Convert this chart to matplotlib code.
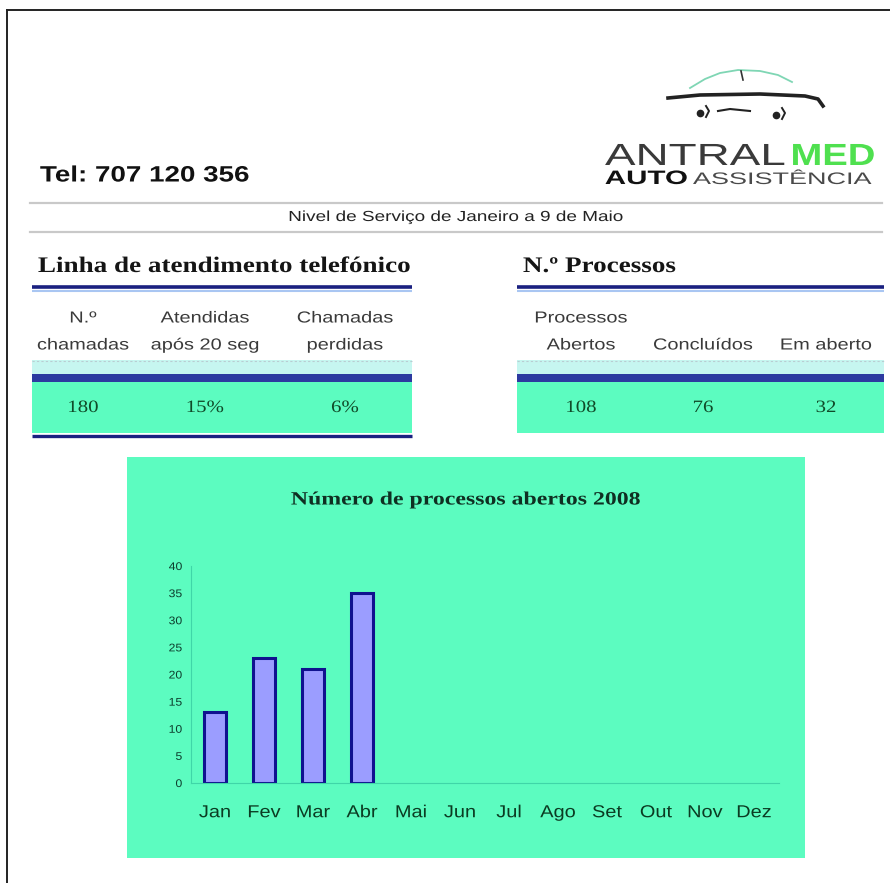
import matplotlib
matplotlib.use("Agg")
import matplotlib.pyplot as plt
from matplotlib.patches import Rectangle
from matplotlib.patheffects import AbstractPathEffect
from matplotlib.transforms import Affine2D

# data
months = ["Jan", "Fev", "Mar", "Abr", "Mai", "Jun", "Jul", "Ago", "Set", "Out", "Nov", "Dez"]
opened = [13, 23, 21, 35]  # Jan..Abr, remaining months still empty
y_ticks = [0, 5, 10, 15, 20, 25, 30, 35, 40]

phone_headers = ["N.º\nchamadas", "Atendidas\napós 20 seg", "Chamadas\nperdidas"]
phone_values = ["180", "15%", "6%"]
proc_headers = ["Processos\nAbertos", "Concluídos", "Em aberto"]
proc_values = ["108", "76", "32"]

phone_tel = "Tel: 707 120 356"
subtitle = "Nivel de Serviço de Janeiro a 9 de Maio"
chart_title = "Número de processos abertos 2008"

AQUA = "#5cfcc0"
NAVY = "#1a2080"
SANS = "Liberation Sans"
SERIF = "Liberation Serif"


class Stretch(AbstractPathEffect):
    """Widen glyphs horizontally (the source scan is stretched sideways)."""

    def __init__(self, sx, about="center"):
        super().__init__()
        self.sx = sx
        self.about = about

    def draw_path(self, renderer, gc, tpath, affine, rgbFace=None):
        ext = tpath.get_extents()
        if self.about == "left":
            cx = ext.x0
        elif self.about == "right":
            cx = ext.x1
        else:
            cx = (ext.x0 + ext.x1) / 2
        t = Affine2D().translate(-cx, 0).scale(self.sx, 1).translate(cx, 0) + affine
        renderer.draw_path(gc, tpath, t, rgbFace)


fig = plt.figure(figsize=(8.9, 8.83), dpi=100)

# overlay axes in pixel coordinates for the page layout
page = fig.add_axes([0, 0, 1, 1])
page.set_xlim(0, 890)
page.set_ylim(883, 0)
page.axis("off")


def stext(x, y, s, sx, ha="center", **kw):
    about = {"left": "left", "right": "right"}.get(ha, "center")
    return page.text(x, y, s, ha=ha, path_effects=[Stretch(sx, about)], **kw)


# frame
page.plot([7, 7], [883, 10], color="#222222", lw=1.4)
page.plot([7, 890], [10, 10], color="#222222", lw=1.4)

# logo: car sketch + wordmark
page.plot([690, 705, 720, 738, 760, 778, 792], [88, 79, 73, 70, 71, 75, 82], color="#7fd6b4", lw=1.3)
page.plot([741, 743], [71, 80], color="#333333", lw=1.2)
page.plot([668, 700, 760, 805, 818, 823], [98, 95, 94, 96, 99, 106], color="#222222", lw=2.6)
page.plot([700], [113], "o", color="#222222", ms=4.5)
page.plot([776], [115], "o", color="#222222", ms=4.5)
page.plot([706, 709, 706], [106, 111, 117], color="#222222", lw=1.4)
page.plot([782, 785, 782], [108, 113, 119], color="#222222", lw=1.4)
page.plot([718, 730, 750], [111, 109, 111], color="#222222", lw=1.5)
stext(605, 165, "ANTRAL", 1.5, ha="left", va="baseline", family=SANS, fontsize=22, color="#3a3a3a")
stext(791, 165, "MED", 1.25, ha="left", va="baseline", family=SANS, weight="bold",
      fontsize=22, color="#4fe04f")
stext(605, 184, "AUTO", 1.52, ha="left", va="baseline", family=SANS, weight="bold",
      fontsize=14, color="#111111")
stext(693, 184, "ASSISTÊNCIA", 1.62, ha="left", va="baseline", family=SANS,
      fontsize=12, color="#4a4a4a")

stext(40, 176, phone_tel, 1.25, ha="left", va="center", family=SANS, weight="bold",
      fontsize=16, color="#111111")

# subtitle band
for yy in (203, 232):
    page.plot([30, 882], [yy, yy], color="#c9c9c9", lw=1.6)
stext(457, 217, subtitle, 1.3, va="center", family=SANS, fontsize=10.5, color="#222222")

# tables
panels = [
    (32, 412, "Linha de atendimento telefónico", phone_headers, phone_values,
     [83, 205, 345], True),
    (517, 884, "N.º Processos", proc_headers, proc_values, [581, 703, 826], False),
]
for x0, x1, head, headers, values, cols, bottom_line in panels:
    stext(x0 + 6, 267, head, 1.22, ha="left", va="center", family=SERIF, weight="bold",
          fontsize=16, color="#151515")
    page.plot([x0, x1], [287, 287], color=NAVY, lw=2.6, solid_capstyle="butt")
    page.plot([x0, x1], [291, 291], color="#a9c6f2", lw=1.5, solid_capstyle="butt")
    page.add_patch(Rectangle((x0, 360), x1 - x0, 14, color="#c6f6f0", lw=0))
    page.plot([x0, x1], [361, 361], color="#b9cdd2", lw=0.8, ls=(0, (2, 2)))
    page.add_patch(Rectangle((x0, 374), x1 - x0, 8, color="#2c3aa0", lw=0))
    page.add_patch(Rectangle((x0, 382), x1 - x0, 51, color=AQUA, lw=0))
    if bottom_line:
        page.plot([x0, x1], [436, 436], color=NAVY, lw=2.4, solid_capstyle="butt")
    for cx, hd, val in zip(cols, headers, values):
        lines = hd.split("\n")
        rows = [318, 345][-len(lines):]
        for ln, ry in zip(lines, rows):
            stext(cx, ry, ln, 1.25, va="center", family=SANS, fontsize=11.5, color="#3a3a3a")
        stext(cx, 408, val, 1.2, va="center", family=SERIF, fontsize=12.5, color="#104a28")

# chart panel
page.add_patch(Rectangle((127, 457), 678, 401, color=AQUA, lw=0))
stext(466, 500, chart_title, 1.27, va="center", family=SERIF, weight="bold",
      fontsize=13.5, color="#0f2f22")

ax = fig.add_axes([190.5 / 890, 1 - 783 / 883, 588 / 890, 217 / 883])
ax.set_facecolor("none")
ax.bar(range(len(opened)), opened, width=0.46, color="#9b9dff",
       edgecolor="#10128f", linewidth=2.2)
ax.set_xlim(-0.5, len(months) - 0.5)
ax.set_ylim(0, 40)
ax.set_yticks(y_ticks)
ax.set_xticks(range(len(months)))
ax.set_xticklabels(months)
for sp in ("top", "right"):
    ax.spines[sp].set_visible(False)
for sp in ("left", "bottom"):
    ax.spines[sp].set_color("#3fd6a8")
    ax.spines[sp].set_linewidth(0.8)
ax.tick_params(axis="y", length=0, pad=6, labelsize=8, labelcolor="#0d3d2d")
ax.tick_params(axis="x", length=0, pad=16, labelsize=12.5, labelcolor="#0b3b22")
for lab in ax.get_xticklabels():
    lab.set_family(SANS)
    lab.set_path_effects([Stretch(1.15)])
for lab in ax.get_yticklabels():
    lab.set_family(SANS)
    lab.set_path_effects([Stretch(1.1, "right")])

fig.savefig("out.png", dpi=100, facecolor="white")
